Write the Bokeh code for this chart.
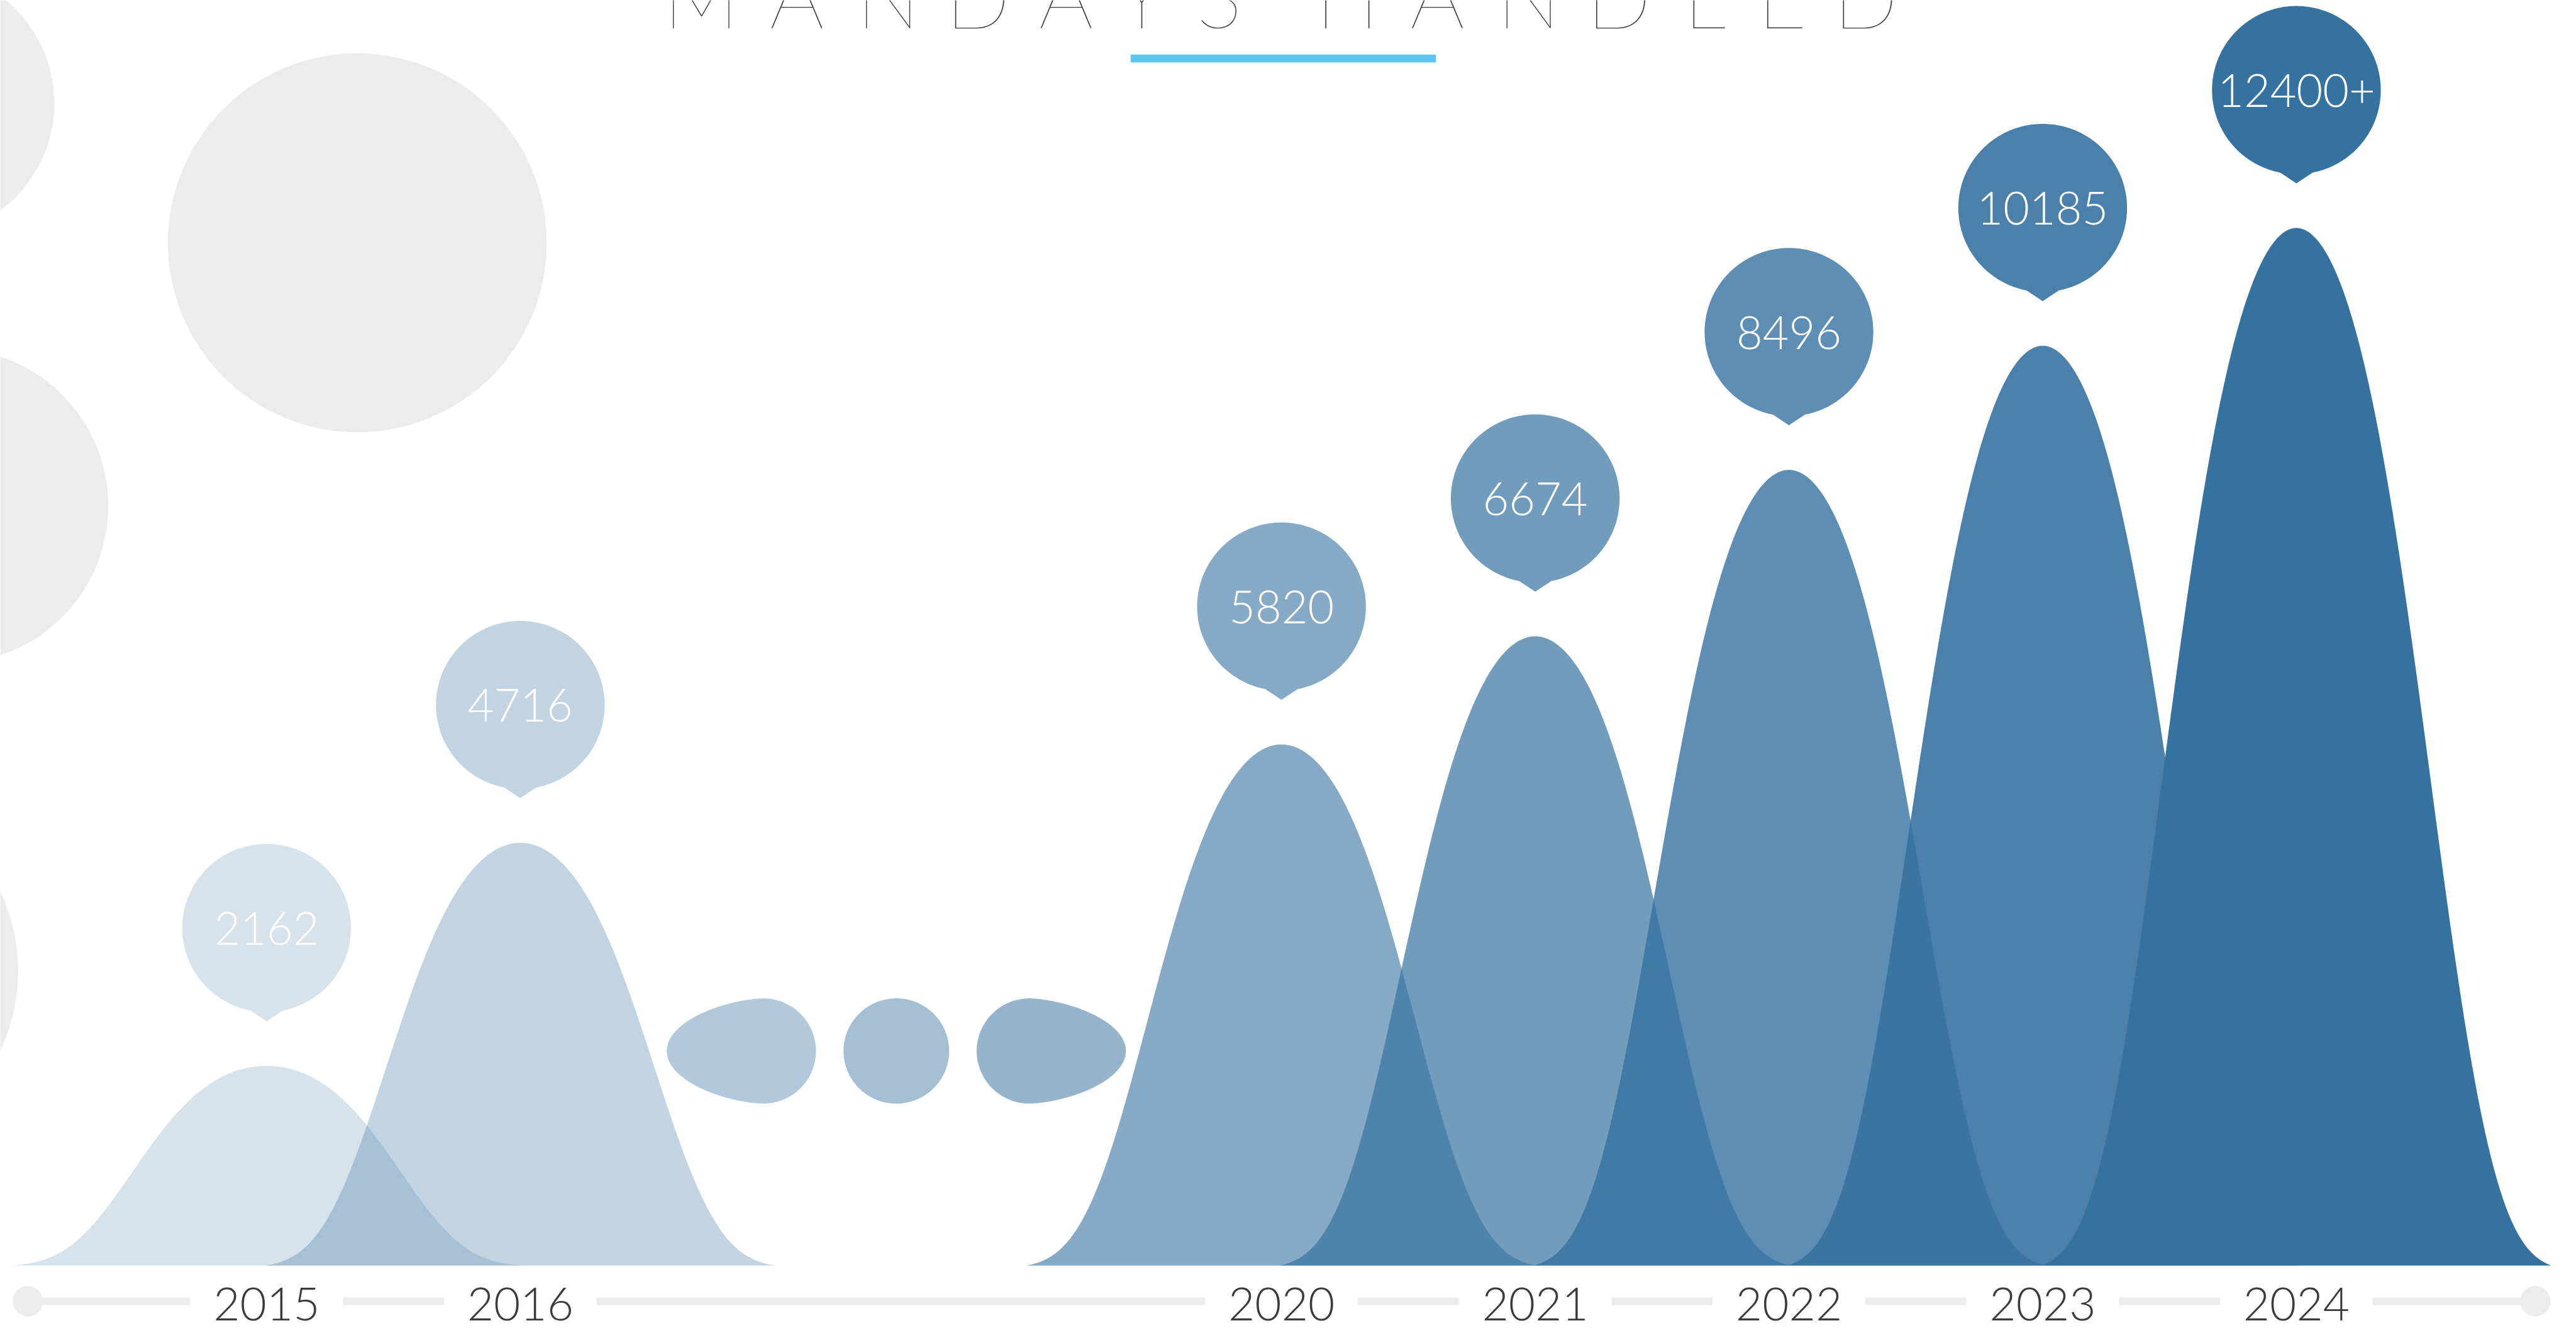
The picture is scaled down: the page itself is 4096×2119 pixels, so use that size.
import numpy as np
from bokeh.plotting import figure
from bokeh.models import Range1d, ColumnDataSource
from bokeh.core.properties import value
from bokeh.embed import file_html
from bokeh.resources import INLINE

# ---------------- data ----------------
years = ["2015", "2016", "2020", "2021", "2022", "2023", "2024"]
mandays = [2162, 4716, 5820, 6674, 8496, 10185, 12400]
value_labels = ["2162", "4716", "5820", "6674", "8496", "10185", "12400+"]
peak_heights = [349, 739, 911, 1100, 1391, 1608, 1814]   # mountain heights above the baseline
opacity = [0.2, 0.3, 0.6, 0.7, 0.8, 0.9, 1.0]
gap_opacity = [0.38, 0.45, 0.52]                          # the three "skipped years" blobs
title_text = "MANDAYS HANDLED"

# ---------------- layout / style constants ----------------
REF_W, REF_H = 4471, 2313
PLOT_W, PLOT_H = 4080, 2103
FS = PLOT_H / REF_H
BASE_COLOR = "#3672a0"
GREY = "#ececec"
TEXT_COLOR = "#3a3a3a"
X0, PITCH = 464.0, 442.1
BASE_Y = 2212.0
HALF_W = 444.0
BUBBLE_R = 147.0
BUBBLE_OFFSET = 241.0
TIMELINE_Y, TIMELINE_T = 2274.5, 13.0
LABEL_GAP = 133.0
MID_FIX = 0.1   # "middle" baseline sits a bit above the digits' visual centre


def slot_of(i, year):
    # 2017-2019 are collapsed into two slots shown as three small blobs
    return i if int(year) <= 2016 else i + 2


xs_center = [X0 + PITCH * slot_of(i, y) for i, y in enumerate(years)]


def bell(cx, h):
    d = np.linspace(-HALF_W, HALF_W, 601)
    u = np.abs(d) / HALF_W
    g = np.exp(-(1.725 * u ** 2 + 3.564 * u ** 4))
    e0 = np.exp(-(1.725 + 3.564))
    f = (g - e0) / (1 - e0)
    return list(cx + d), list(BASE_Y - h * f)


def bubble(cx, cy):
    half = 28.0
    phi = np.arcsin(half / BUBBLE_R)
    th = np.linspace(np.pi / 2 + phi, np.pi / 2 + 2 * np.pi - phi, 240)
    bx = list(cx + BUBBLE_R * np.cos(th)) + [cx]
    by = list(cy + BUBBLE_R * np.sin(th)) + [cy + BUBBLE_R + 16]
    return bx, by


def blob(cx, cy, r, a_left, a_right, q=1.25):
    th = np.linspace(0, 2 * np.pi, 360)
    c = np.cos(th)
    xs = []
    for ci in c:
        a = a_right if ci >= 0 else a_left
        k = q if a > r else 1.0
        xs.append(cx + a * np.sign(ci) * abs(ci) ** k)
    return xs, list(cy + r * np.sin(th))


p = figure(width=PLOT_W, height=PLOT_H,
           x_range=Range1d(0, REF_W), y_range=Range1d(REF_H, 0),
           output_backend="svg", toolbar_location=None, min_border=0,
           x_axis_location=None, y_axis_location=None,
           outline_line_color=None, background_fill_color="white",
           border_fill_color="white")
p.grid.grid_line_color = None

# decorative grey circles at the left edge
deco = dict(x=[-139, 622, -86, -296], y=[180, 424, 884, 1697], r=[233, 330, 274, 327])
p.circle(x="x", y="y", radius="r", source=ColumnDataSource(deco),
         fill_color=GREY, line_color=None)

# title (letter-spaced), only its lower part is inside the picture
TITLE_SIZE = 150.0
title_letters = [ch for ch in title_text if ch != " "]
title_x = [1221, 1388, 1547, 1703, 1857, 1989, 2124,
           2347, 2504, 2663, 2820, 2970, 3105, 3250]
p.text(x=title_x, y=[36 - (0.36 - 0.06) * TITLE_SIZE] * len(title_letters), text=title_letters,
       text_font=value("Lato"), text_font_size=value(f"200 {TITLE_SIZE * FS:.0f}px"),
       text_color=TEXT_COLOR, text_align="center", text_baseline="middle")
p.quad(left=[REF_W / 2 - 266], right=[REF_W / 2 + 266], top=[95], bottom=[108.5],
       fill_color="#5bc5ef", line_color=None)

# mountains
m_xs, m_ys = [], []
for cx, h in zip(xs_center, peak_heights):
    bx, by = bell(cx, h)
    m_xs.append(bx)
    m_ys.append(by)
p.patches(xs=m_xs, ys=m_ys, fill_color=BASE_COLOR, fill_alpha=opacity, line_color=None)

# blobs for the collapsed years
gap_c = (xs_center[1] + xs_center[2]) / 2 - 8
blob_r = 92.0
blob_specs = [(gap_c - 232, blob_r + 76, blob_r),
              (gap_c, blob_r, blob_r),
              (gap_c + 232, blob_r, blob_r + 76)]
b_xs, b_ys = [], []
for bxc, al, ar in blob_specs:
    bx, by = blob(bxc, BASE_Y - 375, blob_r, al, ar)
    b_xs.append(bx)
    b_ys.append(by)
p.patches(xs=b_xs, ys=b_ys, fill_color=BASE_COLOR, fill_alpha=gap_opacity, line_color=None)

# value bubbles
VAL_SIZE = 79.0
bub_xs, bub_ys, bub_cy = [], [], []
for cx, h in zip(xs_center, peak_heights):
    cy = BASE_Y - h - BUBBLE_OFFSET
    bx, by = bubble(cx, cy)
    bub_xs.append(bx)
    bub_ys.append(by)
    bub_cy.append(cy)
p.patches(xs=bub_xs, ys=bub_ys, fill_color=BASE_COLOR, fill_alpha=opacity, line_color=None)
p.text(x=xs_center, y=[c - 7 + MID_FIX * VAL_SIZE for c in bub_cy], text=value_labels,
       text_font=value("Lato"), text_font_size=value(f"300 {VAL_SIZE * FS:.0f}px"),
       text_color="white", text_align="center", text_baseline="middle")

# timeline with year labels
YEAR_SIZE = 80.0
t_left, t_right = 48.0, 4417.0
edges = [t_left]
for cx in xs_center:
    edges += [cx - LABEL_GAP, cx + LABEL_GAP]
edges.append(t_right)
seg_l = edges[0::2]
seg_r = edges[1::2]
p.quad(left=seg_l, right=seg_r, top=[TIMELINE_Y - TIMELINE_T / 2] * len(seg_l),
       bottom=[TIMELINE_Y + TIMELINE_T / 2] * len(seg_l), fill_color=GREY, line_color=None)
p.circle(x=[t_left, t_right], y=[TIMELINE_Y, TIMELINE_Y], radius=26.5,
         fill_color=GREY, line_color=None)
p.text(x=xs_center, y=[2272 + MID_FIX * YEAR_SIZE] * len(years), text=years,
       text_font=value("Lato"), text_font_size=value(f"300 {YEAR_SIZE * FS:.0f}px"),
       text_color=TEXT_COLOR, text_align="center", text_baseline="middle")

open("out.html", "w").write(file_html(p, INLINE))
